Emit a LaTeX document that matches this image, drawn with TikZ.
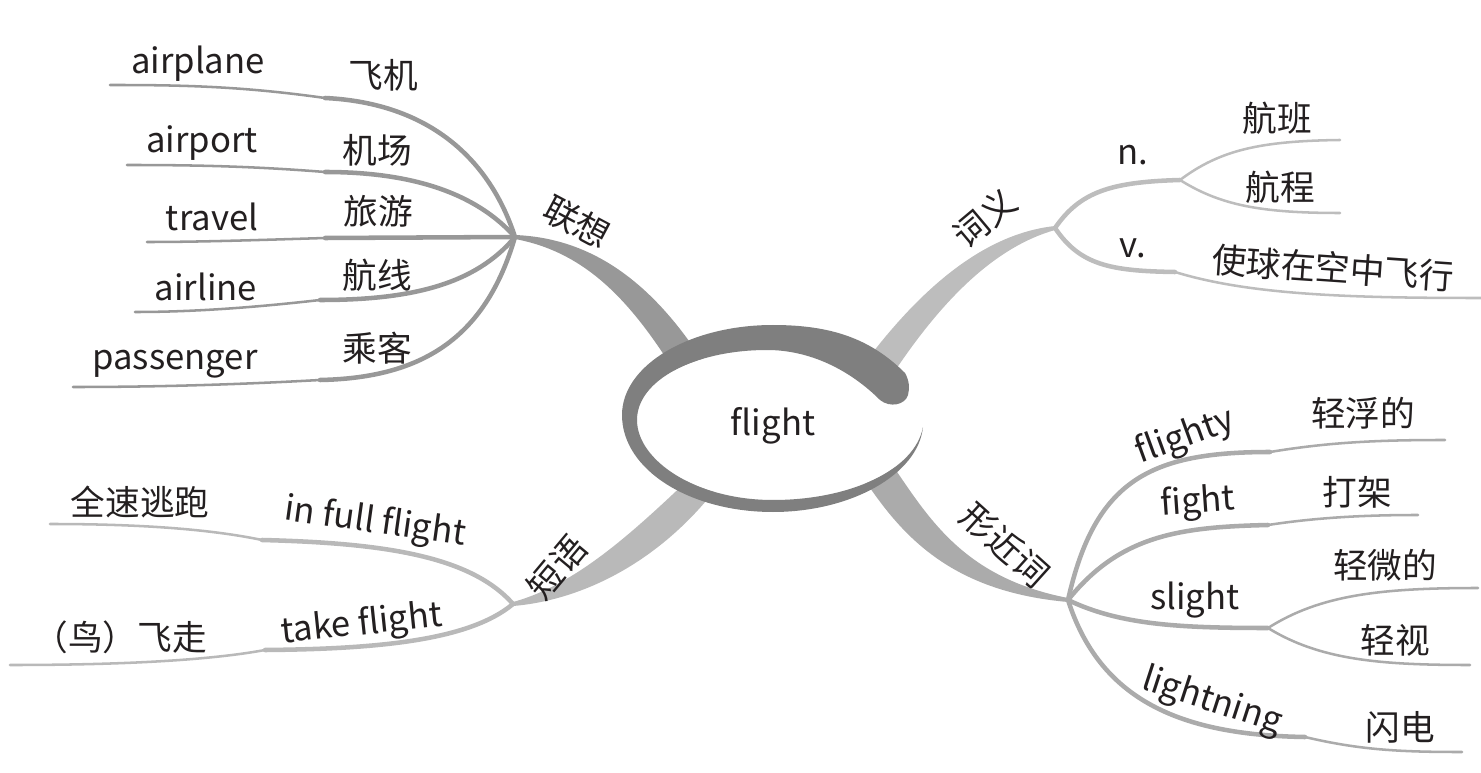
\documentclass[tikz,border=0pt]{standalone}
\usepackage{fontspec}
\setmainfont{Noto Sans CJK SC}
\definecolor{txt}{HTML}{231F20}
\definecolor{swirl}{HTML}{7F7F7F}
\definecolor{gA}{HTML}{989898}
\definecolor{gB}{HTML}{BDBDBD}
\definecolor{gC}{HTML}{B9B9B9}
\definecolor{gD}{HTML}{ABABAB}
\begin{document}
\begin{tikzpicture}[x=0.75pt,y=-0.75pt,
  lbl/.style={font=\fontsize{26}{30}\selectfont, text=txt, inner sep=0pt},
  innerln/.style={line width=3.4pt, line cap=round},
  outerln/.style={line width=1.9pt, line cap=round},
]
\useasboundingbox (0,0) rectangle (1481,773);

% hubs and kinks
\coordinate (hA) at (515,237);
\coordinate (hB) at (1055,228);
\coordinate (hC) at (513,604);
\coordinate (hD) at (1068,600);

\coordinate (kA1) at (325,98);  \coordinate (eA1) at (110,85);
\coordinate (kA2) at (325,172); \coordinate (eA2) at (127,165);
\coordinate (kA3) at (325,238); \coordinate (eA3) at (147,242);
\coordinate (kA4) at (320,300); \coordinate (eA4) at (135,312);
\coordinate (kA5) at (320,380); \coordinate (eA5) at (73,387);

\coordinate (kBn) at (1180,180);
\coordinate (eBn1) at (1340,140);
\coordinate (eBn2) at (1340,213);
\coordinate (kBv) at (1175,272); \coordinate (eBv) at (1481,298);

\coordinate (kC1) at (262,540); \coordinate (eC1) at (50,524);
\coordinate (kC2) at (265,650); \coordinate (eC2) at (10,665);

\coordinate (kD1) at (1270,452); \coordinate (eD1) at (1445,440);
\coordinate (kD2) at (1268,525); \coordinate (eD2) at (1418,515);
\coordinate (kD3) at (1268,628); \coordinate (eD3a) at (1478,588); \coordinate (eD3b) at (1470,665);
\coordinate (kD4) at (1305,737); \coordinate (eD4) at (1462,752);

% main branches (tapered)
\fill[gA] (515,235) .. controls (590,238) and (650,280) .. (702,360) -- (675,372) .. controls (630,300) and (585,252) .. (515,239) -- cycle;
\fill[gB] (1055,226) .. controls (990,233) and (925,280) .. (858,372) -- (885,386) .. controls (940,300) and (995,247) .. (1055,230) -- cycle;
\fill[gC] (513,602) .. controls (575,585) and (630,535) .. (690,478) -- (715,490) .. controls (660,560) and (585,600) .. (513,606) -- cycle;
\fill[gD] (893,466) .. controls (930,520) and (965,578) .. (1068,598) -- (1068,602) .. controls (955,592) and (905,540) .. (866,482) -- cycle;

% leaf connectors: 联想
\draw[gA,innerln] (hA) .. controls (490,160) and (430,103) .. (kA1);
\draw[gA,outerln] (kA1) .. controls (240,86) and (180,85) .. (eA1);
\draw[gA,innerln] (hA) .. controls (475,192) and (410,172) .. (kA2);
\draw[gA,outerln] (kA2) .. controls (250,166) and (190,165) .. (eA2);
\draw[gA,innerln] (hA) -- (kA3);
\draw[gA,outerln] (kA3) .. controls (260,240) and (200,242) .. (eA3);
\draw[gA,innerln] (hA) .. controls (475,285) and (410,300) .. (kA4);
\draw[gA,outerln] (kA4) .. controls (250,308) and (190,312) .. (eA4);
\draw[gA,innerln] (hA) .. controls (485,340) and (420,378) .. (kA5);
\draw[gA,outerln] (kA5) .. controls (230,385) and (150,387) .. (eA5);

% 词义
\draw[gB,innerln] (hB) .. controls (1080,192) and (1110,182) .. (kBn);
\draw[gB,outerln] (kBn) .. controls (1220,150) and (1260,141) .. (eBn1);
\draw[gB,outerln] (kBn) .. controls (1220,205) and (1260,213) .. (eBn2);
\draw[gB,innerln] (hB) .. controls (1080,265) and (1110,271) .. (kBv);
\draw[gB,outerln] (kBv) .. controls (1250,295) and (1350,298) .. (eBv);

% 短语
\draw[gC,innerln] (hC) .. controls (470,555) and (380,543) .. (kC1);
\draw[gC,outerln] (kC1) .. controls (200,527) and (120,524) .. (eC1);
\draw[gC,innerln] (hC) .. controls (470,640) and (380,649) .. (kC2);
\draw[gC,outerln] (kC2) .. controls (200,662) and (100,665) .. (eC2);

% 形近词
\draw[gD,innerln] (hD) .. controls (1095,480) and (1150,452) .. (kD1);
\draw[gD,outerln] (kD1) .. controls (1330,442) and (1380,440) .. (eD1);
\draw[gD,innerln] (hD) .. controls (1120,535) and (1180,527) .. (kD2);
\draw[gD,outerln] (kD2) .. controls (1320,517) and (1370,515) .. (eD2);
\draw[gD,innerln] (hD) .. controls (1120,625) and (1180,628) .. (kD3);
\draw[gD,outerln] (kD3) .. controls (1320,595) and (1380,588) .. (eD3a);
\draw[gD,outerln] (kD3) .. controls (1320,660) and (1380,665) .. (eD3b);
\draw[gD,innerln] (hD) .. controls (1100,700) and (1180,735) .. (kD4);
\draw[gD,outerln] (kD4) .. controls (1360,750) and (1400,752) .. (eD4);

% centre: white interior, then the swirl
\fill[white] (923,427)
  .. controls (915,470) and (850,500) .. (773,500)
  .. controls (695,500) and (637,460) .. (637,420)
  .. controls (637,380) and (695,350) .. (767,350)
  .. controls (810,350) and (850,370) .. (880,400)
  -- cycle;
\fill[swirl] (905,373)
  .. controls (870,338) and (830,325) .. (773,325)
  .. controls (690,325) and (622,365) .. (622,415)
  .. controls (622,470) and (690,512) .. (773,512)
  .. controls (850,512) and (918,475) .. (923,427)
  .. controls (915,470) and (850,500) .. (773,500)
  .. controls (695,500) and (637,460) .. (637,420)
  .. controls (637,380) and (695,350) .. (767,350)
  .. controls (810,350) and (850,370) .. (880,400)
  .. controls (890,408) and (905,405) .. (908,395)
  .. controls (910,388) and (909,380) .. (905,373) -- cycle;
\node[lbl] (c) at (773,426) {flight};

% labels: 联想
\node[lbl,rotate=-28] (A) at (577,222) {联想};
\node[lbl] (tA1) at (383,75) {飞机};  \node[lbl] (uA1) at (198,64) {airplane};
\node[lbl] (tA2) at (377,150) {机场}; \node[lbl] (uA2) at (202,143) {airport};
\node[lbl] (tA3) at (378,211) {旅游}; \node[lbl] (uA3) at (212,217) {travel};
\node[lbl] (tA4) at (377,275) {航线}; \node[lbl] (uA4) at (206,287) {airline};
\node[lbl] (tA5) at (377,348) {乘客}; \node[lbl] (uA5) at (175,364) {passenger};

% 词义
\node[lbl,rotate=40] (B) at (985,218) {词义};
\node[lbl] (Bn) at (1133,155) {n.};
\node[lbl] (Bn1) at (1277,118) {航班};
\node[lbl] (Bn2) at (1280,187) {航程};
\node[lbl] (Bv) at (1133,248) {v.};
\node[lbl,rotate=-4] (Bv1) at (1333,268) {使球在空中飞行};

% 短语
\node[lbl,rotate=50] (C) at (557,567) {短语};
\node[lbl,rotate=-8] (C1) at (375,523) {in full flight};
\node[lbl] (C1a) at (140,502) {全速逃跑};
\node[lbl,rotate=6] (C2) at (362,625) {take flight};
\node[lbl] (C2a) at (120,637) {（鸟）飞走};

% 形近词
\node[lbl,rotate=-42] (D) at (1005,545) {形近词};
\node[lbl,rotate=20] (D1) at (1185,437) {flighty};
\node[lbl] (D1a) at (1363,413) {轻浮的};
\node[lbl,rotate=4] (D2) at (1198,503) {fight};
\node[lbl] (D2a) at (1357,492) {打架};
\node[lbl] (D3) at (1195,600) {slight};
\node[lbl] (D3a) at (1385,565) {轻微的};
\node[lbl] (D3b) at (1395,640) {轻视};
\node[lbl,rotate=-18] (D4) at (1212,702) {lightning};
\node[lbl] (D4a) at (1400,727) {闪电};
\end{tikzpicture}
\end{document}
